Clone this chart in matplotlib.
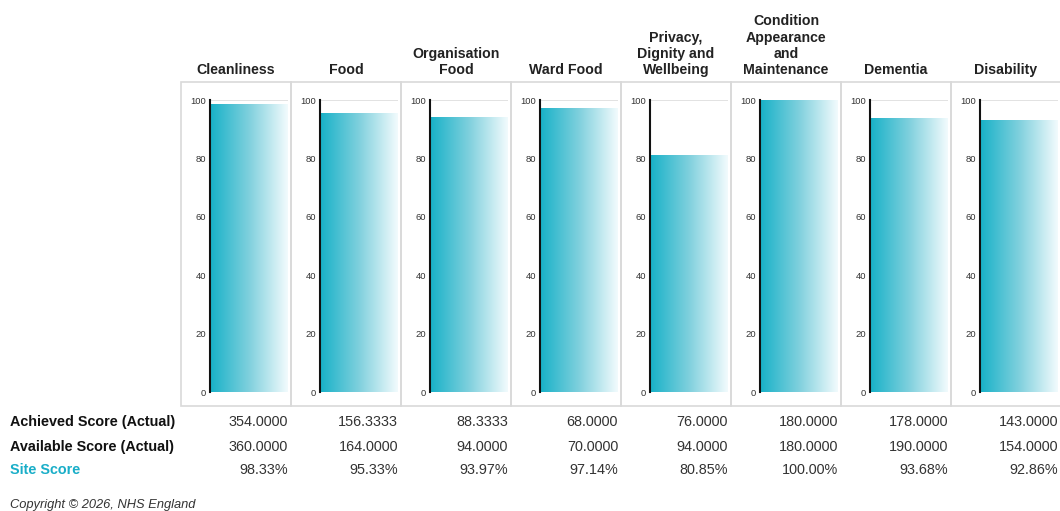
import numpy as np
import matplotlib
matplotlib.use("Agg")
import matplotlib.pyplot as plt
from matplotlib.colors import LinearSegmentedColormap
from matplotlib.patches import Rectangle

categories = ["Cleanliness", "Food", "Organisation\nFood", "Ward Food",
              "Privacy,\nDignity and\nWellbeing", "Condition\nAppearance\nand\nMaintenance",
              "Dementia", "Disability"]
achieved = [354.0, 156.3333, 88.3333, 68.0, 76.0, 180.0, 178.0, 143.0]
available = [360.0, 164.0, 94.0, 70.0, 94.0, 180.0, 190.0, 154.0]
site_score = [98.33, 95.33, 93.97, 97.14, 80.85, 100.00, 93.68, 92.86]
yticks = [0, 20, 40, 60, 80, 100]

plt.rcParams['font.family'] = ['Liberation Sans', 'DejaVu Sans']

W, H = 1060, 511
fig = plt.figure(figsize=(W / 100, H / 100), dpi=100)

teal = "#17b1c8"
cmap = LinearSegmentedColormap.from_list("g", [teal, "#7fd0dd", "#f2fbfd"])
grad = np.linspace(0, 1, 256).reshape(1, -1)

def fx(px):
    return px / W

def fy(py):
    return 1 - py / H

panel_left0 = 181
panel_w = 110
panel_top = 82
panel_bot = 406

# panel borders
for i in range(len(categories)):
    x0 = panel_left0 + i * panel_w
    fig.patches.append(Rectangle((fx(x0), fy(panel_bot)), fx(panel_w), fy(panel_top) - fy(panel_bot),
                                 transform=fig.transFigure, fill=False, edgecolor="#d9d9d9",
                                 linewidth=1.2))

ax_top, ax_bot = 100, 392
for i, (cat, val) in enumerate(zip(categories, site_score)):
    x0 = panel_left0 + i * panel_w
    axl = x0 + 29
    axr = x0 + 107
    ax = fig.add_axes([fx(axl), fy(ax_bot), fx(axr - axl), fy(ax_top) - fy(ax_bot)])
    ax.set_xlim(0, 1)
    ax.set_ylim(0, 100)
    ax.imshow(grad, cmap=cmap, extent=[0, 1, 0, val], aspect="auto", zorder=2)
    ax.axhline(100, color="#dddddd", linewidth=1.2, zorder=1)
    ax.axhline(0, color="#dddddd", linewidth=1.2, zorder=1)
    for s in ["top", "right", "bottom"]:
        ax.spines[s].set_visible(False)
    ax.spines["left"].set_color("#111111")
    ax.spines["left"].set_linewidth(1.5)
    ax.spines["left"].set_zorder(3)
    ax.set_xticks([])
    ax.set_yticks(yticks)
    ax.tick_params(axis="y", length=0, pad=3, labelsize=6.8, labelcolor="#333333")
    ax.patch.set_alpha(0)
    # title
    fig.text(fx(x0 + panel_w / 2), fy(77), cat, ha="center", va="bottom",
             fontsize=10.2, fontweight="bold", color="#222222", linespacing=1.2)
    # table values
    fig.text(fx(x0 + 107), fy(422), f"{achieved[i]:.4f}", ha="right", va="center",
             fontsize=10.4, color="#333333")
    fig.text(fx(x0 + 107), fy(447), f"{available[i]:.4f}", ha="right", va="center",
             fontsize=10.4, color="#333333")
    fig.text(fx(x0 + 107), fy(470), f"{val:.2f}%", ha="right", va="center",
             fontsize=10.4, color="#333333")

fig.text(fx(10), fy(422), "Achieved Score (Actual)", ha="left", va="center",
         fontsize=10.4, fontweight="bold", color="#111111")
fig.text(fx(10), fy(447), "Available Score (Actual)", ha="left", va="center",
         fontsize=10.4, fontweight="bold", color="#111111")
fig.text(fx(10), fy(470), "Site Score", ha="left", va="center",
         fontsize=10.4, fontweight="bold", color="#1aaec8")
fig.text(fx(10), fy(505), "Copyright \u00a9 2026, NHS England", ha="left", va="center",
         fontsize=9.3, fontstyle="italic", color="#333333")

fig.savefig("out.png", dpi=100)
